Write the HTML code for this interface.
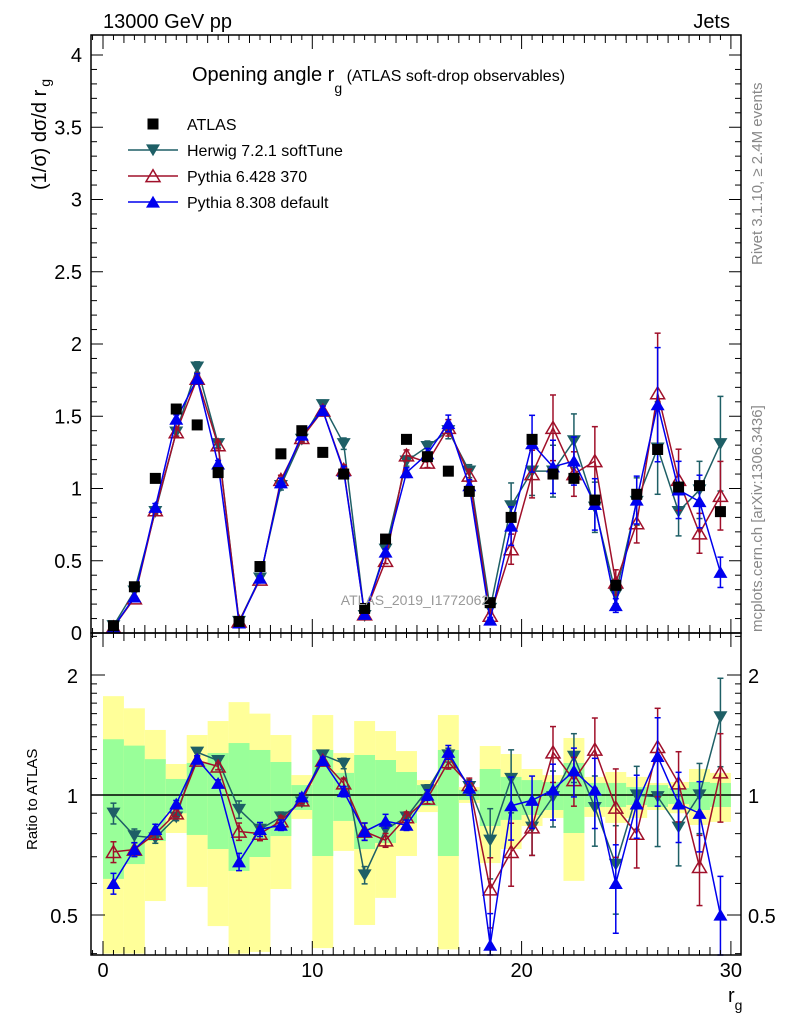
<!DOCTYPE html>
<html><head><meta charset="utf-8">
<style>
html,body{margin:0;padding:0;background:#fff;}
svg{display:block;font-family:"Liberation Sans",sans-serif;}
</style></head>
<body>
<svg id="chart" width="786" height="1024" viewBox="0 0 786 1024" xmlns="http://www.w3.org/2000/svg">
<rect x="0" y="0" width="786" height="1024" fill="#fff"/>
<g id="bands"></g>
<g id="grid"></g>
<g id="series"></g>
<g id="frame"></g>
<text x="103" y="28" font-size="20">13000 GeV pp</text>
<text x="730" y="28" font-size="20" text-anchor="end">Jets</text>
<text x="192" y="81" font-size="20">Opening angle r<tspan font-size="14" dy="12">g</tspan><tspan font-size="16" dy="-12"> (ATLAS soft-drop observables)</tspan></text>
<text x="415" y="605" font-size="14" fill="#999" text-anchor="middle">ATLAS_2019_I1772062</text>
<text transform="translate(762,265) rotate(-90)" font-size="15" fill="#888">Rivet 3.1.10, ≥ 2.4M events</text>
<text transform="translate(762,632) rotate(-90)" font-size="15" fill="#888">mcplots.cern.ch [arXiv:1306.3436]</text>
<text transform="translate(46,190) rotate(-90)" font-size="20">(1/σ) dσ/d r<tspan font-size="14" dy="4" dx="3">g</tspan></text>
<text transform="translate(37,850) rotate(-90)" font-size="15">Ratio to ATLAS</text>
<text x="728" y="1002" font-size="20">r<tspan font-size="14" dy="8">g</tspan></text>
<g id="legend"></g>
</svg>
<script>
const centers = [0.5,1.5,2.5,3.5,4.5,5.5,6.5,7.5,8.5,9.5,10.5,11.5,12.5,13.5,14.5,15.5,16.5,17.5,18.5,19.5,20.5,21.5,22.5,23.5,24.5,25.5,26.5,27.5,28.5,29.5];
const atlas = [0.05,0.32,1.07,1.55,1.44,1.11,0.08,0.46,1.24,1.40,1.25,1.10,0.17,0.65,1.34,1.22,1.12,0.98,0.21,0.80,1.34,1.10,1.07,0.92,0.33,0.96,1.27,1.01,1.02,0.84];
const herwig = [0.05,0.29,0.84,1.39,1.84,1.31,0.08,0.38,1.02,1.34,1.58,1.31,0.12,0.58,1.19,1.29,1.40,1.12,0.17,0.88,1.12,1.12,1.33,0.87,0.27,0.91,1.28,0.84,0.99,1.31];
const py6 = [0.04,0.24,0.85,1.39,1.76,1.30,0.08,0.37,1.06,1.35,1.54,1.13,0.13,0.50,1.23,1.18,1.42,1.09,0.12,0.58,1.10,1.42,1.10,1.19,0.35,0.76,1.66,1.06,0.69,0.95];
const py8 = [0.04,0.25,0.87,1.48,1.76,1.17,0.07,0.38,1.04,1.37,1.54,1.12,0.13,0.56,1.11,1.24,1.45,1.02,0.09,0.74,1.31,1.15,1.19,0.89,0.19,0.92,1.58,0.99,0.91,0.42];
const herwigRatio = [0.90,0.79,0.78,0.88,1.28,1.22,0.92,0.82,0.88,0.96,1.26,1.20,0.63,0.82,0.88,1.03,1.26,1.05,0.77,1.10,0.83,0.99,1.25,0.93,0.67,1.00,0.99,0.83,1.00,1.57];
const py6Ratio = [0.72,0.73,0.80,0.90,1.22,1.18,0.81,0.80,0.86,0.97,1.22,1.07,0.81,0.77,0.88,0.98,1.21,1.06,0.58,0.72,0.83,1.28,1.09,1.30,0.93,0.80,1.32,1.07,0.66,1.14];
const py8Ratio = [0.60,0.73,0.82,0.95,1.23,1.07,0.68,0.82,0.84,0.99,1.22,1.02,0.81,0.86,0.84,1.00,1.28,1.04,0.42,0.94,0.97,1.03,1.15,1.03,0.60,0.95,1.25,0.95,0.90,0.50];
const relErr = [0.06,0.04,0.03,0.02,0.02,0.02,0.05,0.04,0.03,0.02,0.02,0.03,0.05,0.04,0.03,0.03,0.04,0.04,0.2,0.18,0.15,0.16,0.14,0.2,0.25,0.18,0.25,0.2,0.2,0.25];
const yellowHi = [1.77,1.65,1.456,1.196,1.414,1.533,1.71,1.60,1.414,1.122,1.587,1.274,1.533,1.447,1.289,1.09,1.587,1.047,1.327,1.267,1.162,1.122,1.39,1.11,1.142,1.11,1.072,1.078,1.162,1.136];
const yellowLo = [0.40,0.40,0.542,0.803,0.588,0.469,0.40,0.404,0.581,0.871,0.413,0.724,0.472,0.552,0.703,0.906,0.41,0.955,0.675,0.732,0.836,0.876,0.609,0.881,0.851,0.876,0.917,0.90,0.841,0.856];
const greenHi = [1.38,1.33,1.23,1.097,1.203,1.274,1.35,1.297,1.21,1.059,1.297,1.136,1.26,1.224,1.142,1.059,1.297,1.03,1.162,1.11,1.09,1.078,1.203,1.072,1.072,1.047,1.059,1.041,1.078,1.072];
const greenLo = [0.616,0.671,0.767,0.90,0.794,0.732,0.645,0.699,0.789,0.917,0.703,0.861,0.732,0.758,0.851,0.938,0.703,0.972,0.836,0.866,0.891,0.917,0.803,0.933,0.933,0.944,0.933,0.949,0.917,0.933];
const xTicks = [0,10,20,30];
const yTicks = [0,0.5,1,1.5,2,2.5,3,3.5,4];
const rTicks = [0.5,1,2];

const NS="http://www.w3.org/2000/svg";
const L=91,R=741,T=35,MID=633,B=955;
const X=v=>103+v*20.93;
const Y=v=>633-v*144.5;
const RY=v=>Math.min(B,Math.max(MID,795-120*Math.log2(v)));
function el(tag,attrs,parent){const e=document.createElementNS(NS,tag);for(const k in attrs)e.setAttribute(k,attrs[k]);parent.appendChild(e);return e;}
const bands=document.getElementById('bands'),grid=document.getElementById('grid'),ser=document.getElementById('series'),frame=document.getElementById('frame'),leg=document.getElementById('legend');

centers.forEach((c,i)=>{
  const x0=X(c-0.5),x1=X(c+0.5);
  let r=el('rect',{x:x0,y:RY(yellowHi[i]),width:x1-x0,height:RY(yellowLo[i])-RY(yellowHi[i]),fill:'#ffff99'},bands);
  
  
  let g=el('rect',{x:x0,y:RY(greenHi[i]),width:x1-x0,height:RY(greenLo[i])-RY(greenHi[i]),fill:'#99ff99'},bands);
  
  
});
el('line',{x1:L,x2:R,y1:RY(1),y2:RY(1),stroke:'#000','stroke-width':1.5},grid);

el('rect',{x:L,y:T,width:R-L,height:MID-T,fill:'none',stroke:'#000','stroke-width':1.5},frame);
el('rect',{x:L,y:MID,width:R-L,height:B-MID,fill:'none',stroke:'#000','stroke-width':1.5},frame);
for(let v=-0.5;v<=30.6;v+=0.5){
  const x=X(v); if(x<L||x>R)continue;
  const major=Math.abs(v%10)<1e-6, mid=Math.abs(v%1)<1e-6;
  const len=major?14:(mid?8:5);
  [[MID,-1],[T,1],[B,-1],[MID,1]].forEach(([y,d])=>el('line',{x1:x,x2:x,y1:y,y2:y+d*len,stroke:'#000'},frame));
}
for(let v=0;v<=4.1;v+=0.1){
  const y=Y(v); const major=Math.abs(Math.round(v*10)%5)===0; const len=major?12:6;
  el('line',{x1:L,x2:L+len,y1:y,y2:y,stroke:'#000'},frame);
  el('line',{x1:R,x2:R-len,y1:y,y2:y,stroke:'#000'},frame);
}
yTicks.forEach(v=>{const t=el('text',{x:82,y:Y(v)+7,'font-size':20,'text-anchor':'end'},frame);t.textContent=String(v);
  
  });
[0.4,0.5,0.6,0.7,0.8,0.9,1,1.1,1.2,1.3,1.4,1.5,1.6,1.7,1.8,1.9,2,2.5].forEach(v=>{
  const y=RY(v); if(y<=MID||y>=B)return; const major=rTicks.includes(v); const len=major?14:6;
  el('line',{x1:L,x2:L+len,y1:y,y2:y,stroke:'#000'},frame);
  el('line',{x1:R,x2:R-len,y1:y,y2:y,stroke:'#000'},frame);
});
rTicks.forEach(v=>{
  const t=el('text',{x:78,y:RY(v)+8,'font-size':20,'text-anchor':'end'},frame);t.textContent=String(v);
  
  
  const t2=el('text',{x:748,y:RY(v)+8,'font-size':20},frame);t2.textContent=String(v);
  
  
});
xTicks.forEach(v=>{const t=el('text',{x:X(v),y:977,'font-size':20,'text-anchor':'middle'},frame);t.textContent=String(v);
  
  });

function marker(kind,color,x,y,parent,s){
  s=s||7;
  if(kind==='sq') return el('rect',{x:x-5.5,y:y-5.5,width:11,height:11,fill:'#000'},parent);
  if(kind==='down') return el('polygon',{points:`${x-s},${y-s*0.8} ${x+s},${y-s*0.8} ${x},${y+s*0.9}`,fill:color},parent);
  if(kind==='open') return el('polygon',{points:`${x-s},${y+s*0.8} ${x+s},${y+s*0.8} ${x},${y-s*0.9}`,fill:'none',stroke:color,'stroke-width':1.5},parent);
  return el('polygon',{points:`${x-s},${y+s*0.8} ${x+s},${y+s*0.8} ${x},${y-s*0.9}`,fill:color},parent);
}
const seriesDefs=[
  {name:'herwig',vals:herwig,ratio:herwigRatio,color:'#1e5f66',kind:'down'},
  {name:'pythia6',vals:py6,ratio:py6Ratio,color:'#a0102a',kind:'open'},
  {name:'pythia8',vals:py8,ratio:py8Ratio,color:'#0000ee',kind:'up'}
];
seriesDefs.forEach(sd=>{
  const g=el('g',{},ser);
  
  
  [[sd.vals,Y],[sd.ratio,RY]].forEach(([arr,fy])=>{
    el('polyline',{points:centers.map((c,i)=>X(c)+','+fy(arr[i])).join(' '),fill:'none',stroke:sd.color,'stroke-width':1.5},g);
    centers.forEach((c,i)=>{
      const e=arr[i]*relErr[i]; const x=X(c);
      const y1=fy(arr[i]+e),y2=fy(Math.max(arr[i]-e,0.01));
      if(y2-y1>4){
        el('line',{x1:x,x2:x,y1:y1,y2:y2,stroke:sd.color,'stroke-width':1.5},g);
        el('line',{x1:x-3,x2:x+3,y1:y1,y2:y1,stroke:sd.color,'stroke-width':1.5},g);
        el('line',{x1:x-3,x2:x+3,y1:y2,y2:y2,stroke:sd.color,'stroke-width':1.5},g);
      }
      const m=marker(sd.kind,sd.color,x,fy(arr[i]),g);
      
      
    });
  });
});
const ag=el('g',{},ser);


centers.forEach((c,i)=>{const m=marker('sq','#000',X(c),Y(atlas[i]),ag);
  
  });

const items=[['ATLAS','sq','#000'],['Herwig 7.2.1 softTune','down','#1e5f66'],['Pythia 6.428 370','open','#a0102a'],['Pythia 8.308 default','up','#0000ee']];
items.forEach((it,i)=>{
  const y=124+i*26;
  const g=el('g',{},leg);
  
  
  if(it[1]!=='sq') el('line',{x1:128,x2:178,y1:y,y2:y,stroke:it[2],'stroke-width':1.5},g);
  marker(it[1],it[2],153,y,g);
  const t=el('text',{x:187,y:y+6,'font-size':16},g); t.textContent=it[0];
});
</script>
</body></html>
